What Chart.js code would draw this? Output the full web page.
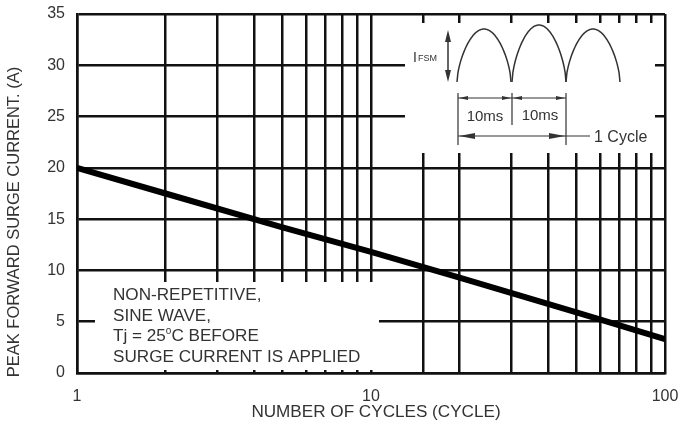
<!DOCTYPE html>
<html>
<head>
<meta charset="utf-8">
<script src="https://cdn.jsdelivr.net/npm/chart.js@4.4.0/dist/chart.umd.min.js"></script>
<style>
body { margin: 0; background: #fff; }
</style>
</head>
<body>
<canvas id="myChart" width="681" height="428"></canvas>
<script>
// surge current vs number of cycles
var cycles = [1, 2, 5, 10, 20, 50, 100]
var current = [20, 17.5, 14.2, 11.8, 9.3, 5.9, 3.3]
var xTickLabels = [1, 10, 100]
var yMin = 0, yMax = 35, yStep = 5
var xTitle = 'NUMBER OF CYCLES (CYCLE)'
var yTitle = 'PEAK FORWARD SURGE CURRENT. (A)'
var notes = ['NON-REPETITIVE,', 'SINE WAVE,', 'Tj = 25°C BEFORE', 'SURGE CURRENT IS APPLIED']

var FONT = '"Liberation Sans", Arial, sans-serif'
var TEXT = '#333'
var STRETCH = 1.07   // the original lettering is a bit wider than Arial

var points = cycles.map((c, i) => {
    return { x: c, y: current[i] }
})

function arrowHead(ctx, x, y, dir, len, half) {
    ctx.beginPath()
    ctx.moveTo(x, y)
    ctx.lineTo(x - dir * len, y - half)
    ctx.lineTo(x - dir * len, y + half)
    ctx.closePath()
    ctx.fill()
}

// text drawn a little wider, anchored at x
function wideText(ctx, text, x, y) {
    ctx.save()
    ctx.translate(x, y)
    ctx.scale(STRETCH, 1)
    ctx.fillText(text, 0, 0)
    ctx.restore()
}

var extras = {
    id: 'extras',
    afterDraw: function (chart) {
        var ctx = chart.ctx
        var ca = chart.chartArea
        ctx.save()

        // white panels hiding the grid under the inset and the notes
        ctx.fillStyle = '#fff'
        ctx.fillRect(ca.left + 328, ca.top + 9, ca.right - 10 - (ca.left + 328), 130)
        ctx.fillRect(ca.left + 18, ca.top + 268, 284, ca.bottom - 3 - (ca.top + 268))

        ctx.fillStyle = TEXT
        ctx.strokeStyle = TEXT

        // axis titles
        ctx.font = '16px ' + FONT
        ctx.textAlign = 'center'
        ctx.textBaseline = 'middle'
        wideText(ctx, xTitle, (ca.left + ca.right) / 2 + 5, 413)
        ctx.save()
        ctx.translate(15, 222)
        ctx.rotate(-Math.PI / 2)
        ctx.scale(1.03, 1)
        ctx.fillText(yTitle, 0, 0)
        ctx.restore()

        // notes box text
        ctx.textAlign = 'left'
        var nx = ca.left + 36
        notes.forEach((line, i) => {
            var y = ca.top + 282 + i * 20.5
            var parts = line.split('°')
            ctx.font = '16px ' + FONT
            if (parts.length > 1) {
                wideText(ctx, parts[0], nx, y)
                var w = ctx.measureText(parts[0]).width * STRETCH
                ctx.font = '10px ' + FONT
                ctx.fillText('o', nx + w, y - 6)
                var w2 = ctx.measureText('o').width
                ctx.font = '16px ' + FONT
                wideText(ctx, parts[1], nx + w + w2, y)
            } else {
                wideText(ctx, line, nx, y)
            }
        })

        // inset: rectified sine waveform
        var base = 82
        var humps = [[457, 511, 53], [512, 566, 57], [566, 620, 53]]
        ctx.lineWidth = 1.5
        humps.forEach((h) => {
            ctx.beginPath()
            for (var k = 0; k <= 60; k++) {
                var t = k / 60
                var px = h[0] + t * (h[1] - h[0])
                var py = base - h[2] * Math.pow(Math.sin(Math.PI * t), 0.6)
                if (k == 0) ctx.moveTo(px, py)
                else ctx.lineTo(px, py)
            }
            ctx.stroke()
        })

        // IFSM label and double arrow
        ctx.font = '14px ' + FONT
        ctx.fillText('I', 413, 58)
        var wi = ctx.measureText('I').width
        ctx.font = '9px ' + FONT
        ctx.fillText('FSM', 413 + wi + 1, 59)
        ctx.beginPath()
        ctx.moveTo(448, 36)
        ctx.lineTo(448, 76)
        ctx.stroke()
        ctx.beginPath()
        ctx.moveTo(448, 30); ctx.lineTo(445, 42); ctx.lineTo(451, 42); ctx.closePath(); ctx.fill()
        ctx.beginPath()
        ctx.moveTo(448, 82); ctx.lineTo(445, 70); ctx.lineTo(451, 70); ctx.closePath(); ctx.fill()

        // dimension lines
        ctx.lineWidth = 1.2
        ctx.beginPath()
        ctx.moveTo(458, 93); ctx.lineTo(458, 145)
        ctx.moveTo(512, 93); ctx.lineTo(512, 125)
        ctx.moveTo(566, 93); ctx.lineTo(566, 145)
        ctx.moveTo(458, 98); ctx.lineTo(566, 98)
        ctx.moveTo(458, 136); ctx.lineTo(590, 136)
        ctx.stroke()
        arrowHead(ctx, 459, 98, -1, 9, 2)
        arrowHead(ctx, 511, 98, 1, 9, 2)
        arrowHead(ctx, 513, 98, -1, 9, 2)
        arrowHead(ctx, 565, 98, 1, 9, 2)
        arrowHead(ctx, 459, 136, -1, 16, 3)
        arrowHead(ctx, 565, 136, 1, 16, 3)

        ctx.font = '15px ' + FONT
        ctx.textAlign = 'center'
        ctx.fillText('10ms', 485, 117)
        ctx.fillText('10ms', 540, 116)
        ctx.textAlign = 'left'
        ctx.font = '16px ' + FONT
        ctx.fillText('1 Cycle', 594, 138)

        ctx.restore()
    }
}

var data = {
    datasets: [{
        label: 'IFSM',
        data: points,
        borderColor: '#000',
        borderWidth: 6,
        pointRadius: 0,
        tension: 0,
        fill: false
    }]
}

var options = {
    responsive: false,
    devicePixelRatio: 1,
    animation: false,
    layout: {
        padding: { left: 0, top: 14, right: 16, bottom: 0 }
    },
    plugins: {
        legend: { display: false },
        tooltip: { enabled: false }
    },
    scales: {
        x: {
            type: 'logarithmic',
            min: 1,
            max: 100,
            afterFit: function (scale) {
                scale.height = 55
                scale.paddingLeft = 0
                scale.paddingRight = 0
            },
            grid: {
                color: '#111',
                lineWidth: 2.5,
                drawTicks: false
            },
            border: { color: '#111', width: 2.5 },
            ticks: {
                autoSkip: false,
                maxRotation: 0,
                padding: 14,
                color: TEXT,
                font: { family: FONT, size: 16 },
                callback: function (value) {
                    return xTickLabels.includes(value) ? String(value) : ''
                }
            }
        },
        y: {
            min: yMin,
            max: yMax,
            afterFit: function (scale) {
                scale.width = 77
                scale.paddingTop = 0
                scale.paddingBottom = 0
            },
            grid: {
                color: '#111',
                lineWidth: 2.5,
                drawTicks: false
            },
            border: { color: '#111', width: 2.5 },
            ticks: {
                stepSize: yStep,
                padding: 12,
                color: TEXT,
                font: { family: FONT, size: 16 }
            }
        }
    }
}

var ctx = document.getElementById('myChart').getContext('2d')
var myChart = new Chart(ctx, {
    type: 'line',
    data: data,
    options: options,
    plugins: [extras]
})
</script>
</body>
</html>
